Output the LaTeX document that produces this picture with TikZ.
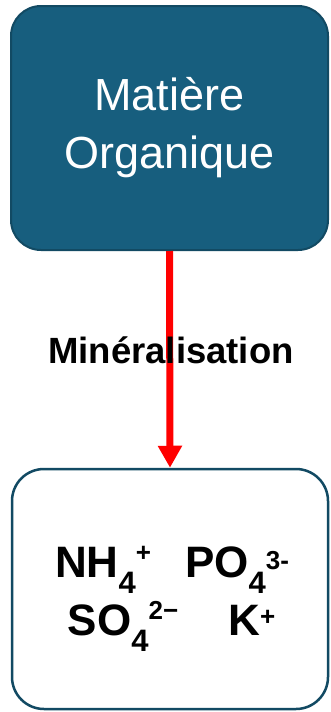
\documentclass[tikz,border=0pt]{standalone}
\usepackage{fontspec}
\setmainfont{Liberation Sans}
\usetikzlibrary{arrows.meta}
\definecolor{tealfill}{HTML}{175E7E}
\definecolor{tealline}{HTML}{124A63}
\newcommand{\ionsub}[1]{\raisebox{-16pt}{\fontsize{31}{31}\selectfont #1}}
\newcommand{\ionsup}[2][12pt]{\raisebox{#1}{\fontsize{26}{26}\selectfont #2}}

\begin{document}
\begin{tikzpicture}[x=1pt,y=-1pt,
    matbox/.style={draw=tealline,line width=2pt,fill=tealfill,rounded corners=30pt,
      minimum width=317pt,minimum height=244pt,text=white,align=center,
      font=\fontsize{45}{58}\selectfont},
    ionbox/.style={draw=tealline,line width=2.5pt,fill=white,rounded corners=32pt,
      minimum width=316pt,minimum height=240pt},
    ions/.style={anchor=base,font=\fontsize{44}{44}\selectfont\bfseries},
    flow/.style={red,line width=7pt,-{Triangle[width=23pt,length=22pt]}}]
  \useasboundingbox (0,0) rectangle (330,712);
  \node[matbox] (mat) at (169.5,128) {Matière\\Organique};
  \node[ionbox] (min) at (170,589) {};
  \draw[flow] (mat.south) -- (min.north);
  \node[font=\fontsize{36.5}{36.5}\selectfont\bfseries] (lbl) at (171,350) {Minéralisation};
  \node[ions] (ionA) at (172,577) {NH\ionsub{4}\ionsup[16pt]{+}\hspace{34pt}PO\ionsub{4}\ionsup[8pt]{3-}};
  \node[ions] (ionB) at (171.5,635) {SO\ionsub{4}\ionsup[16pt]{2−}\hspace{50pt}K\ionsup[10pt]{+}};
\end{tikzpicture}
\end{document}
